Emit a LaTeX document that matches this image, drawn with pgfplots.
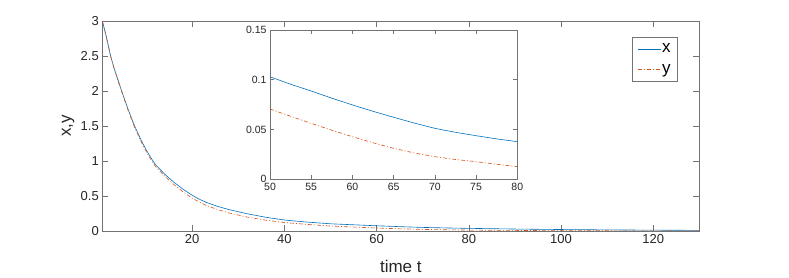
\documentclass[border=0pt]{standalone}
\usepackage{pgfplots}
\pgfplotsset{compat=1.18}
\usepackage{fontspec}
\setmainfont{Liberation Sans}
\definecolor{mblue}{rgb}{0,0.447,0.741}
\definecolor{morange}{rgb}{0.85,0.325,0.098}
\definecolor{axgray}{gray}{0.45}
\definecolor{txtgray}{gray}{0.15}
\begin{document}
\begin{tikzpicture}
\useasboundingbox (0pt,0pt) rectangle (789pt,278pt);
\pgfplotsset{
  mystyle/.style={
    scale only axis,
    axis line style={axgray, line width=0.6pt},
    every tick/.style={axgray, line width=0.6pt},
    tick align=inside,
    tick pos=both,
    ticklabel style={text=txtgray},
    /pgf/number format/assume math mode=true,
    /pgf/number format/fixed,
    scaled ticks=false,
    axis background/.style={fill=white},
  }
}
\begin{axis}[mystyle,
  at={(102.3pt,47pt)}, anchor=south west,
  width=597pt, height=210pt,
  xmin=0.5, xmax=130, ymin=0, ymax=3,
  xtick={20,40,60,80,100,120},
  ytick={0,0.5,1,1.5,2,2.5,3},
  major tick length=6pt,
  ticklabel style={font=\fontsize{13}{15}\selectfont},
  xlabel={time t}, ylabel={x,y},
  label style={font=\fontsize{17}{19}\selectfont, text=txtgray},
  xlabel style={at={(axis description cs:0.5,-0.2)}, anchor=base},
  ylabel style={at={(axis description cs:-0.057,0.5)}, anchor=center},
  legend style={at={(axis description cs:0.887,0.924)}, anchor=north west,
    draw=axgray, line width=0.6pt, font=\fontsize{17}{17}\selectfont,
    inner xsep=6pt, inner ysep=6pt, row sep=9pt, cells={anchor=west},
    nodes={inner sep=0.5pt}},
]
\addplot[color=mblue, draw=mblue, line width=0.6pt,
  legend image code/.code={\draw[color=mblue, draw=mblue, line width=0.6pt] (0pt,0pt) -- (23pt,0pt);}] coordinates {
(0.5,3.0) (1.1,2.85) (1.5,2.74) (2.3,2.5) (3,2.34) (4,2.14) (4.7,2.0) (6,1.756)
(7.5,1.5) (9,1.287) (10,1.162) (11,1.05) (12,0.95) (14,0.814) (16,0.698) (18,0.598)
(20,0.51) (21.2,0.465) (23,0.41) (25.6,0.35) (28,0.305) (32,0.245) (36,0.196) (40,0.157)
(45,0.127) (50,0.103) (55,0.0887) (60,0.0747) (65,0.0623) (70,0.0512) (75,0.0438) (80,0.0378)
(90,0.028) (100,0.021) (110,0.016) (120,0.012) (130,0.009)};
\addlegendentry{x}
\addplot[color=morange, draw=morange, line width=0.6pt, dash pattern=on 4pt off 2pt on 1pt off 2pt,
  legend image code/.code={\draw[color=morange, draw=morange, line width=0.6pt, dash pattern=on 4pt off 2pt on 1pt off 2pt] (0pt,0pt) -- (23pt,0pt);}] coordinates {
(0.5,3.0) (1.1,2.85) (1.5,2.73) (2.3,2.5) (3,2.33) (4,2.13) (4.7,1.99) (6,1.74)
(7.5,1.48) (9,1.265) (10,1.14) (11,1.025) (12,0.925) (14,0.785) (16,0.665) (18,0.56)
(20,0.468) (23,0.365) (25.6,0.305) (28,0.257) (32,0.198) (36,0.154) (40,0.122)
(45,0.094) (50,0.0706) (55,0.0562) (60,0.0428) (65,0.0311) (70,0.0227) (75,0.0177) (80,0.0127)
(90,0.008) (100,0.005) (110,0.003) (120,0.002) (130,0.001)};
\addlegendentry{y}
\end{axis}
\begin{axis}[mystyle,
  at={(270pt,98.7pt)}, anchor=south west,
  width=247.3pt, height=149.3pt,
  xmin=50, xmax=80, ymin=0, ymax=0.15,
  xtick={50,55,...,80},
  ytick={0,0.05,0.1,0.15},
  yticklabels={0,0.05,0.1,0.15},
  major tick length=4pt,
  ticklabel style={font=\fontsize{10.5}{12}\selectfont},
]
\addplot[draw=mblue, line width=0.6pt] coordinates {
(50,0.103) (52.5,0.0955) (55,0.0887) (57.5,0.0815) (60,0.0747) (62.5,0.0683) (65,0.0623)
(67.5,0.0565) (70,0.0512) (72.5,0.0472) (75,0.0438) (77.5,0.0406) (80,0.0378)};
\addplot[draw=morange, line width=0.6pt, dash pattern=on 4pt off 2pt on 1pt off 2pt] coordinates {
(50,0.0706) (52.5,0.0633) (55,0.0562) (57.5,0.0493) (60,0.0428) (62.5,0.0367) (65,0.0311)
(67.5,0.0265) (70,0.0227) (72.5,0.0199) (75,0.0177) (77.5,0.0151) (80,0.0127)};
\end{axis}
\end{tikzpicture}
\end{document}
